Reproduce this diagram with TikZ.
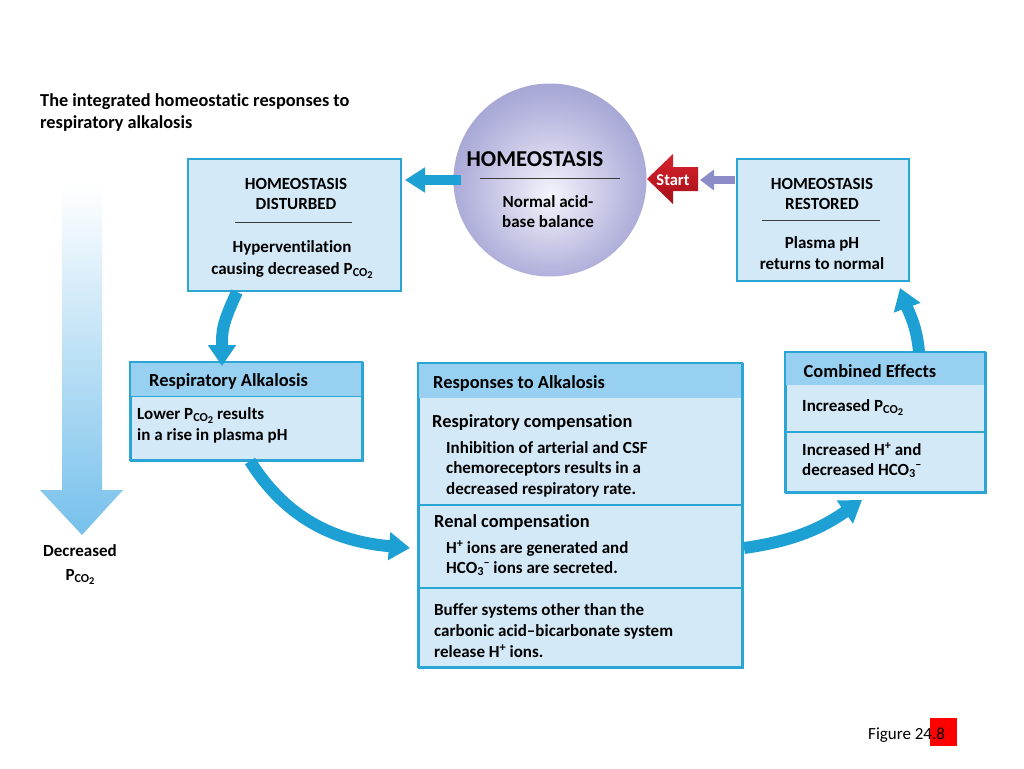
\documentclass[tikz,border=0pt]{standalone}
\usepackage{fontspec}
\usepackage{graphicx}
\setmainfont{Carlito}[Ligatures={NoCommon}]
\usetikzlibrary{arrows.meta,calc}
\definecolor{cyanarr}{RGB}{29,160,212}
\definecolor{boxline}{RGB}{42,165,212}
\definecolor{boxfill}{RGB}{211,233,248}
\definecolor{headfill}{RGB}{152,208,241}
\definecolor{purparr}{RGB}{140,140,200}
\definecolor{redtop}{RGB}{215,35,45}
\definecolor{redbot}{RGB}{165,15,25}
\definecolor{bigblue}{RGB}{118,192,235}
\definecolor{sphA}{RGB}{244,244,252}
\definecolor{sphB}{RGB}{178,178,220}
\definecolor{sphC}{RGB}{112,112,182}
\definecolor{divgray}{RGB}{60,60,60}
\pgfdeclareradialshading{sphere}{\pgfpoint{0bp}{-4bp}}{color(0bp)=(sphA); color(22bp)=(sphB); color(50bp)=(sphC)}
\newcommand{\pco}{P\raisebox{-0.28ex}{\scalebox{0.72}{CO\raisebox{-0.35ex}{\scalebox{0.85}{2}}}}}
\newcommand{\hco}{HCO\raisebox{-0.28ex}{\scalebox{0.72}{3}}\raisebox{0.75ex}{\scalebox{0.72}{–}}}
\newcommand{\hplus}{H\raisebox{0.7ex}{\scalebox{0.72}{+}}}
\tikzset{
  txt/.style={inner sep=0pt, font=\bfseries\fontsize{17}{20}\selectfont},
  subhead/.style={inner sep=0pt, font=\bfseries\fontsize{18.4}{22}\selectfont},
  boxnode/.style={draw=boxline, fill=boxfill, line width=2pt, inner sep=0pt, anchor=north west},
  headband/.style={fill=headfill},
  divline/.style={draw=boxline, line width=2pt},
  thinline/.style={draw=divgray, line width=0.8pt},
  flow/.style={draw=cyanarr, line width=12pt, -{Triangle[length=21pt,width=27pt]}},
}
\begin{document}
\begin{tikzpicture}[x=1pt,y=1pt]
\useasboundingbox (0,0) rectangle (1024,-768);
\fill[white] (0,0) rectangle (1024,-768);

% title
\node[txt, font=\bfseries\fontsize{18.3}{22}\selectfont, anchor=base west] (title1) at (40,-106) {The integrated homeostatic responses to};
\node[txt, font=\bfseries\fontsize{18.3}{22}\selectfont, anchor=base west] (title2) at (40,-128) {respiratory alkalosis};

% big gradient arrow
\shade[top color=white, bottom color=bigblue] (62,-185) -- (102,-185) -- (102,-490) -- (123,-490) -- (82,-535) -- (40,-490) -- (62,-490) -- cycle;
\node[txt, anchor=base] (dec1) at (80,-556) {Decreased};
\node[txt, anchor=base] (dec2) at (80,-580) {\pco};

% circle
\node[circle, minimum size=193pt, inner sep=0pt, shade, shading=sphere] (circ) at (550,-180) {};
\node[inner sep=0pt, font=\bfseries\fontsize{22.7}{26}\selectfont, anchor=base] (hlab) at (535,-166) {HOMEOSTASIS};
\draw[thinline] (480,-178) -- (620,-178);
\node[txt, anchor=base] (n1) at (548,-207) {Normal acid-};
\node[txt, anchor=base] (n2) at (548,-227) {base balance};

% boxes
\node[boxnode, minimum width=213pt, minimum height=132pt] (dist) at (187,-158) {};
\node[boxnode, minimum width=172pt, minimum height=122pt] (rest) at (736,-158) {};

\node[txt, anchor=base] (d1) at (296,-189) {HOMEOSTASIS};
\node[txt, anchor=base] (d2) at (296,-209) {DISTURBED};
\draw[thinline] (235,-222) -- (352,-222);
\node[txt, anchor=base] (d3) at (292,-252) {Hyperventilation};
\node[txt, anchor=base] (d4) at (292,-274) {causing decreased \pco};

\node[txt, anchor=base] (r1) at (822,-189) {HOMEOSTASIS};
\node[txt, anchor=base] (r2) at (822,-209) {RESTORED};
\draw[thinline] (762,-220) -- (880,-220);
\node[txt, anchor=base] (r3) at (822,-248) {Plasma pH};
\node[txt, anchor=base] (r4) at (822,-269) {returns to normal};

% respiratory alkalosis box
\node[boxnode, minimum width=232pt, minimum height=98pt] (alk) at (130,-362) {};
\fill[headband] (130,-362) rectangle (362,-396);
\draw[boxline, line width=2pt] (130,-362) rectangle (362,-460);
\draw[divline, line width=1pt] (130,-396) -- (362,-396);
\node[subhead, anchor=base west] (a1) at (149,-386) {Respiratory Alkalosis};
\node[txt, anchor=base west] (a2) at (137,-419) {Lower \pco{} results};
\node[txt, anchor=base west] (a3) at (137,-440) {in a rise in plasma pH};

% responses box
\node[boxnode, minimum width=324pt, minimum height=304pt] (resp) at (418,-363) {};
\fill[headband] (418,-363) rectangle (742,-398);
\draw[boxline, line width=2pt] (418,-363) rectangle (742,-667);
\draw[divline] (418,-505) -- (742,-505);
\draw[divline] (418,-588) -- (742,-588);
\node[subhead, anchor=base west] (s0) at (433,-388) {Responses to Alkalosis};
\node[subhead, anchor=base west] (s1) at (432,-427) {Respiratory compensation};
\node[txt, anchor=base west] (s2) at (446,-453) {Inhibition of arterial and CSF};
\node[txt, anchor=base west] (s3) at (446,-473) {chemoreceptors results in a};
\node[txt, anchor=base west] (s4) at (446,-494) {decreased respiratory rate.};
\node[subhead, anchor=base west] (s5) at (434,-527) {Renal compensation};
\node[txt, anchor=base west] (s6) at (446,-553) {\hplus{} ions are generated and};
\node[txt, anchor=base west] (s7) at (446,-573) {\hco{} ions are secreted.};
\node[txt, anchor=base west] (s8) at (434,-615) {Buffer systems other than the};
\node[txt, anchor=base west] (s9) at (434,-636) {carbonic acid–bicarbonate system};
\node[txt, anchor=base west] (s10) at (434,-657) {release \hplus{} ions.};

% combined effects box
\node[boxnode, minimum width=200pt, minimum height=140pt] (comb) at (785,-352) {};
\fill[headband] (785,-352) rectangle (985,-385);
\draw[boxline, line width=2pt] (785,-352) rectangle (985,-492);
\draw[divline] (785,-432) -- (985,-432);
\node[subhead, anchor=base] (c0) at (870,-377) {Combined Effects};
\node[txt, anchor=base west] (c1) at (802,-411) {Increased \pco};
\node[txt, anchor=base west] (c2) at (802,-455) {Increased \hplus{} and};
\node[txt, anchor=base west] (c3) at (802,-475) {decreased \hco};

% arrows
\draw[draw=cyanarr, line width=10pt, -{Triangle[length=20pt,width=24pt]}] ($(circ.west)+(8,0)$) -- ($(dist.north east)+(3,-22)$);
\draw[draw=purparr, line width=8pt, -{Triangle[length=14pt,width=20pt]}] ($(rest.north west)+(-1,-22)$) -- ($(rest.north west)+(-36,-22)$);
\shade[top color=redtop, bottom color=redbot] (647,-179) -- (673,-154) -- (673,-167) -- (698,-167) -- (698,-191) -- (673,-191) -- (673,-204) -- cycle;
\node[inner sep=0pt, font=\bfseries\fontsize{16.5}{19}\selectfont, text=white, anchor=base] (startlab) at (673,-185) {Start};

\draw[flow] ($(dist.south west)+(50,0)$) to[out=245, in=90, looseness=1.2] ($(alk.north west)+(92,-4)$);
\draw[flow] ($(alk.south west)+(120,1)$) to[out=-58, in=175] ($(resp.north west)+(-8,-185)$);
\draw[flow] ($(resp.north east)+(0,-185)$) to[out=8, in=215] ($(comb.south west)+(77,-6)$);
\draw[flow] ($(comb.north west)+(134,0)$) to[out=95, in=-70] ($(rest.south east)+(-10,-6)$);

% figure label
\fill[red] (930,-718) rectangle (957,-746);
\node[inner sep=0pt, font=\fontsize{17}{20}\selectfont, anchor=base west] (fig) at (868,-739) {Figure 24.8};
\end{tikzpicture}
\end{document}
